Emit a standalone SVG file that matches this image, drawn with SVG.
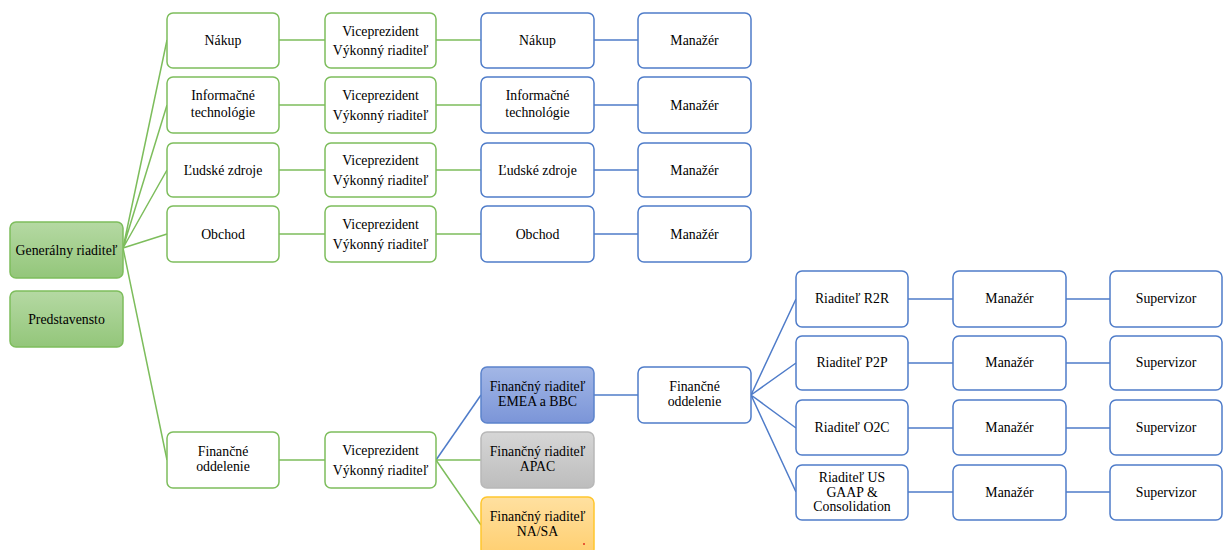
<svg xmlns="http://www.w3.org/2000/svg" width="1227" height="550" viewBox="0 0 1227 550">
<defs>
<linearGradient id="gGreen" x1="0" y1="0" x2="0" y2="1"><stop offset="0" stop-color="#b5d9a3"/><stop offset="1" stop-color="#93c67a"/></linearGradient>
<linearGradient id="gBlue" x1="0" y1="0" x2="0" y2="1"><stop offset="0" stop-color="#a3b7e6"/><stop offset="1" stop-color="#7b95d8"/></linearGradient>
<linearGradient id="gGray" x1="0" y1="0" x2="0" y2="1"><stop offset="0" stop-color="#d6d6d6"/><stop offset="1" stop-color="#bdbdbd"/></linearGradient>
<linearGradient id="gOrange" x1="0" y1="0" x2="0" y2="1"><stop offset="0" stop-color="#ffe0a0"/><stop offset="1" stop-color="#ffcf70"/></linearGradient>
</defs>
<style>
rect{stroke-width:1.5}
.g{fill:#fff;stroke:#7dbd5c}
.b{fill:#fff;stroke:#4f7cc9}
.gf{fill:url(#gGreen);stroke:#7dbd5c}
.bf{fill:url(#gBlue);stroke:#5b83cc}
.gy{fill:url(#gGray);stroke:#b8b8b8}
.of{fill:url(#gOrange);stroke:#ffc62e}
text{font-family:'Liberation Serif','DejaVu Serif',serif;font-size:13.8px;fill:#000;text-anchor:middle}
.cg{stroke:#7dbd5c;stroke-width:1.5;fill:none}
.cb{stroke:#4f7cc9;stroke-width:1.5;fill:none}
</style>
<g id="connectors">
<path class="cg" d="M123 248 L167 40 M123 248 L167 105 M123 248 L167 170 M123 248 L167 234 M123 248 L167 460"/>
<path class="cg" d="M279 40 H325 M279 105 H325 M279 170 H325 M279 234 H325 M279 460 H325"/>
<path class="cg" d="M436 40 H481 M436 105 H481 M436 170 H481 M436 234 H481"/>
<path class="cb" d="M594 40 H638 M594 105 H638 M594 170 H638 M594 234 H638"/>
<path class="cb" d="M436 460 L481 395"/>
<path class="cg" d="M436 460 L481 460 M436 460 L481 525"/>
<path class="cb" d="M594 395 H638"/>
<path class="cb" d="M751 395 L796 299 M751 395 L796 363 M751 395 L796 428 M751 395 L796 492"/>
<path class="cb" d="M908 299 H953 M908 363 H953 M908 428 H953 M908 492 H953"/>
<path class="cb" d="M1066 299 H1110 M1066 363 H1110 M1066 428 H1110 M1066 492 H1110"/>
</g>
<g id="ceo"><rect class="gf" x="10" y="222" width="113" height="56" rx="6"/><text x="66.5" y="254.5">Generálny riaditeľ</text></g>
<g id="board"><rect class="gf" x="10" y="291" width="113" height="56" rx="6"/><text x="66.5" y="323.5">Predstavensto</text></g>

<g id="c2-nakup"><rect class="g" x="167" y="13" width="112" height="55" rx="6"/><text x="223" y="45">Nákup</text></g>
<g id="c2-it"><rect class="g" x="167" y="77" width="112" height="56" rx="6"/><text x="223" y="100">Informačné</text><text x="223" y="117">technológie</text></g>
<g id="c2-hr"><rect class="g" x="167" y="143" width="112" height="54" rx="6"/><text x="223" y="174.5">Ľudské zdroje</text></g>
<g id="c2-obchod"><rect class="g" x="167" y="206" width="112" height="56" rx="6"/><text x="223" y="238.5">Obchod</text></g>
<g id="c2-fin"><rect class="g" x="167" y="432" width="112" height="56" rx="6"/><text x="223" y="456">Finančné</text><text x="223" y="471">oddelenie</text></g>

<g id="c3-1"><rect class="g" x="325" y="13" width="111" height="55" rx="6"/><text x="380.5" y="35.5">Viceprezident</text><text x="380.5" y="55">Výkonný riaditeľ</text></g>
<g id="c3-2"><rect class="g" x="325" y="77" width="111" height="56" rx="6"/><text x="380.5" y="100">Viceprezident</text><text x="380.5" y="119.5">Výkonný riaditeľ</text></g>
<g id="c3-3"><rect class="g" x="325" y="143" width="111" height="54" rx="6"/><text x="380.5" y="165">Viceprezident</text><text x="380.5" y="184.5">Výkonný riaditeľ</text></g>
<g id="c3-4"><rect class="g" x="325" y="206" width="111" height="56" rx="6"/><text x="380.5" y="229">Viceprezident</text><text x="380.5" y="248.5">Výkonný riaditeľ</text></g>
<g id="c3-5"><rect class="g" x="325" y="432" width="111" height="56" rx="6"/><text x="380.5" y="455">Viceprezident</text><text x="380.5" y="474.5">Výkonný riaditeľ</text></g>

<g id="c4-nakup"><rect class="b" x="481" y="13" width="113" height="55" rx="6"/><text x="537.5" y="45">Nákup</text></g>
<g id="c4-it"><rect class="b" x="481" y="77" width="113" height="56" rx="6"/><text x="537.5" y="100">Informačné</text><text x="537.5" y="117">technológie</text></g>
<g id="c4-hr"><rect class="b" x="481" y="143" width="113" height="54" rx="6"/><text x="537.5" y="174.5">Ľudské zdroje</text></g>
<g id="c4-obchod"><rect class="b" x="481" y="206" width="113" height="56" rx="6"/><text x="537.5" y="238.5">Obchod</text></g>

<g id="c5-1"><rect class="b" x="638" y="13" width="113" height="55" rx="6"/><text x="694.5" y="45">Manažér</text></g>
<g id="c5-2"><rect class="b" x="638" y="77" width="113" height="56" rx="6"/><text x="694.5" y="109.5">Manažér</text></g>
<g id="c5-3"><rect class="b" x="638" y="143" width="113" height="54" rx="6"/><text x="694.5" y="174.5">Manažér</text></g>
<g id="c5-4"><rect class="b" x="638" y="206" width="113" height="56" rx="6"/><text x="694.5" y="238.5">Manažér</text></g>

<g id="cfo-emea"><rect class="bf" x="481" y="367" width="113" height="56" rx="6"/><text x="537.5" y="391">Finančný riaditeľ</text><text x="537.5" y="406">EMEA a BBC</text></g>
<g id="cfo-apac"><rect class="gy" x="481" y="432" width="113" height="56" rx="6"/><text x="537.5" y="456">Finančný riaditeľ</text><text x="537.5" y="471">APAC</text></g>
<g id="cfo-nasa"><rect class="of" x="481" y="497" width="113" height="58" rx="6"/><text x="537.5" y="521">Finančný riaditeľ</text><text x="537.5" y="536">NA/SA</text><circle cx="584" cy="544" r="1" fill="#e03020"/></g>

<g id="fin-dept"><rect class="b" x="638" y="367" width="113" height="56" rx="6"/><text x="694.5" y="391">Finančné</text><text x="694.5" y="406">oddelenie</text></g>

<g id="r2r"><rect class="b" x="796" y="271" width="112" height="56" rx="6"/><text x="852" y="303">Riaditeľ R2R</text></g>
<g id="p2p"><rect class="b" x="796" y="336" width="112" height="54" rx="6"/><text x="852" y="367">Riaditeľ P2P</text></g>
<g id="o2c"><rect class="b" x="796" y="400" width="112" height="55" rx="6"/><text x="852" y="432">Riaditeľ O2C</text></g>
<g id="usgaap"><rect class="b" x="796" y="465" width="112" height="55" rx="6"/><text x="852" y="482">Riaditeľ US</text><text x="852" y="497">GAAP &amp;</text><text x="852" y="511">Consolidation</text></g>

<g id="m-1"><rect class="b" x="953" y="271" width="113" height="56" rx="6"/><text x="1009.5" y="303">Manažér</text></g>
<g id="m-2"><rect class="b" x="953" y="336" width="113" height="54" rx="6"/><text x="1009.5" y="367">Manažér</text></g>
<g id="m-3"><rect class="b" x="953" y="400" width="113" height="55" rx="6"/><text x="1009.5" y="432">Manažér</text></g>
<g id="m-4"><rect class="b" x="953" y="465" width="113" height="55" rx="6"/><text x="1009.5" y="497">Manažér</text></g>

<g id="s-1"><rect class="b" x="1110" y="271" width="112" height="56" rx="6"/><text x="1166" y="303">Supervizor</text></g>
<g id="s-2"><rect class="b" x="1110" y="336" width="112" height="54" rx="6"/><text x="1166" y="367">Supervizor</text></g>
<g id="s-3"><rect class="b" x="1110" y="400" width="112" height="55" rx="6"/><text x="1166" y="432">Supervizor</text></g>
<g id="s-4"><rect class="b" x="1110" y="465" width="112" height="55" rx="6"/><text x="1166" y="497">Supervizor</text></g>
</svg>
